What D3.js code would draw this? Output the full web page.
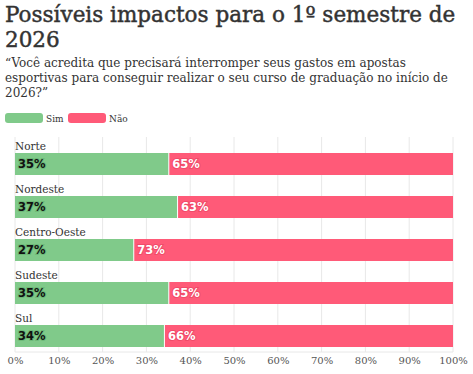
<!DOCTYPE html>
<html>
<head>
<meta charset="utf-8">
<script src="https://cdn.jsdelivr.net/npm/d3@7"></script>
<style>
  body { margin: 0; background: #fff; }
  svg { display: block; }
  .title { font-family: "DejaVu Serif", serif; font-size: 21.5px; fill: #333; stroke: #333; stroke-width: 0.45px; }
  .sub { font-family: "DejaVu Serif", serif; font-size: 12px; fill: #333; }
  .leg { font-family: "DejaVu Serif", serif; font-size: 9px; fill: #333; }
  .cat { font-family: "DejaVu Serif", serif; font-size: 10.5px; fill: #333; }
  .tick text { font-family: "DejaVu Serif", serif; font-size: 10px; fill: #555; }
  .val { font-family: "DejaVu Sans", sans-serif; font-size: 11.5px; font-weight: bold; }
</style>
</head>
<body>
<script>
// data
var regions = ["Norte", "Nordeste", "Centro-Oeste", "Sudeste", "Sul"];
var sim = [35, 37, 27, 35, 34];
var nao = [65, 63, 73, 65, 66];
var series = ["Sim", "Não"];
var colors = ["#80ca8a", "#ff5a78"];
var ticks = [0, 10, 20, 30, 40, 50, 60, 70, 80, 90, 100];

var titleLines = ["Possíveis impactos para o 1º semestre de", "2026"];
var subLines = ["“Você acredita que precisará interromper seus gastos em apostas",
                "esportivas para conseguir realizar o seu curso de graduação no início de",
                "2026?”"];

var W = 473, H = 374;
var svg = d3.select("body").append("svg").attr("width", W).attr("height", H);

// header
svg.selectAll("text.title").data(titleLines).enter().append("text")
    .attr("class", "title")
    .attr("x", 5)
    .attr("y", function(d, i){ return 22 + i * 25; })
    .text(function(d){ return d; });

svg.selectAll("text.sub").data(subLines).enter().append("text")
    .attr("class", "sub")
    .attr("x", 5)
    .attr("y", function(d, i){ return 67 + i * 15; })
    .text(function(d){ return d; });

// legend
var leg = svg.append("g").attr("transform", "translate(5,113)");
var lx = 0;
series.forEach(function(s, i){
    leg.append("rect").attr("x", lx).attr("y", 0).attr("width", 38).attr("height", 10)
        .attr("rx", 3).attr("fill", colors[i]);
    leg.append("text").attr("class", "leg").attr("x", lx + 41).attr("y", 8.5).text(s);
    lx += 63;
});

// chart
var margin = {left: 15, right: 20, top: 137, bottom: 22};
var x = d3.scaleLinear().domain([0, 100]).range([margin.left, W - margin.right]);
var y = d3.scaleBand().domain(regions).range([margin.top, H - margin.bottom]).paddingInner(0).paddingOuter(0);

// grid
svg.append("g").selectAll("line").data(ticks).enter().append("line")
    .attr("x1", function(d){ return x(d); })
    .attr("x2", function(d){ return x(d); })
    .attr("y1", margin.top)
    .attr("y2", H - margin.bottom)
    .attr("stroke", "#e8e8e8")
    .attr("stroke-width", 1);

svg.append("line")
    .attr("x1", x(0)).attr("x2", x(100))
    .attr("y1", H - margin.bottom).attr("y2", H - margin.bottom)
    .attr("stroke", "#e8e8e8");

var xAxis = d3.axisBottom(x).tickValues(ticks).tickFormat(function(d){ return d + "%"; }).tickSize(0).tickPadding(5);
svg.append("g")
    .attr("transform", "translate(0," + (H - margin.bottom) + ")")
    .call(xAxis)
    .call(function(g){ g.select(".domain").remove(); });

var rows = svg.append("g").selectAll("g").data(regions).enter().append("g")
    .attr("transform", function(d){ return "translate(0," + y(d) + ")"; });

var barTop = 16, barH = 22;

rows.append("text").attr("class", "cat")
    .attr("x", x(0))
    .attr("y", 13)
    .text(function(d){ return d; });

rows.each(function(d, i){
    var g = d3.select(this);
    var parts = [{v: sim[i], x0: 0, c: colors[0], tc: "#111", halo: "#5fae6a"},
                 {v: nao[i], x0: sim[i], c: colors[1], tc: "#fff", halo: "#e8405f"}];
    parts.forEach(function(p, k){
        g.append("rect")
            .attr("x", x(p.x0) + (k ? 1 : 0))
            .attr("y", barTop)
            .attr("width", x(p.x0 + p.v) - x(p.x0) - (k ? 1 : 0))
            .attr("height", barH)
            .attr("fill", p.c);
        g.append("text").attr("class", "val")
            .attr("x", x(p.x0) + (k ? 4 : 3))
            .attr("y", barTop + barH / 2 + 4)
            .attr("fill", p.tc)
            .attr("stroke", p.halo)
            .attr("stroke-width", 2)
            .attr("stroke-opacity", 0.6)
            .attr("paint-order", "stroke")
            .text(p.v + "%");
    });
});
</script>
</body>
</html>
